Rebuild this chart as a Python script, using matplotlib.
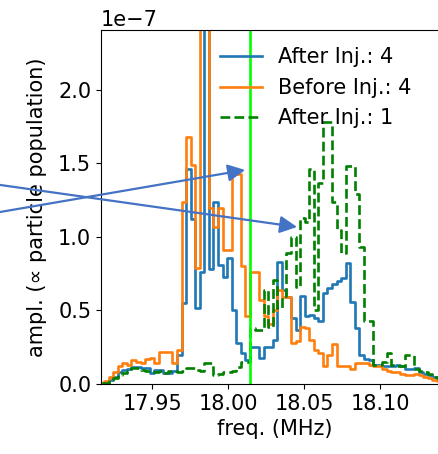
import numpy as np
import matplotlib
matplotlib.use('Agg')
import matplotlib.pyplot as plt

# spectrum bins (MHz), amplitudes in units of 1e-7
f_start = 17.9154
bin_width = 0.003

after_4 = [0.005, 0.01, 0.03, 0.05, 0.08, 0.095, 0.10, 0.115, 0.115, 0.11,
           0.11, 0.075, 0.095, 0.095, 0.075, 0.075, 0.09, 0.20, 0.55, 1.46,
           1.12, 0.52, 0.76, 3.0, 0.78, 1.24, 0.81, 0.73, 0.86, 0.50,
           0.28, 0.21, 0.16, 0.25, 0.25, 0.18, 0.25, 0.25, 0.30, 0.83,
           0.64, 0.59, 0.45, 0.37, 0.60, 0.46, 0.47, 0.45, 0.43, 0.62,
           0.65, 0.68, 0.70, 0.72, 0.82, 0.56, 0.38, 0.20, 0.17, 0.16,
           0.13, 0.13, 0.12, 0.12, 0.12, 0.13, 0.12, 0.10, 0.10, 0.11,
           0.08, 0.07, 0.06, 0.05, 0.04, 0.03, 0.03]

before_4 = [0.01, 0.02, 0.05, 0.08, 0.12, 0.14, 0.13, 0.16, 0.15, 0.14,
            0.17, 0.18, 0.14, 0.22, 0.22, 0.22, 0.14, 0.23, 1.24, 1.68,
            1.49, 0.79, 3.0, 3.0, 1.20, 1.07, 1.20, 0.91, 0.91, 1.43,
            1.43, 0.80, 0.46, 0.76, 0.76, 0.57, 0.46, 0.41, 0.50, 0.64,
            0.59, 0.59, 0.28, 0.29, 0.39, 0.38, 0.30, 0.23, 0.21, 0.12,
            0.20, 0.27, 0.12, 0.12, 0.12, 0.10, 0.14, 0.14, 0.14, 0.13,
            0.12, 0.12, 0.10, 0.09, 0.08, 0.08, 0.07, 0.06, 0.06, 0.07,
            0.06, 0.05, 0.04, 0.03, 0.02, 0.02, 0.02]

after_1 = [0.005, 0.01, 0.03, 0.04, 0.06, 0.075, 0.09, 0.11, 0.11, 0.095,
           0.09, 0.08, 0.08, 0.085, 0.075, 0.09, 0.085, 0.08, 0.09, 0.11,
           0.11, 0.095, 0.09, 0.14, 0.14, 0.06, 0.065, 0.08, 0.08, 0.09,
           0.115, 0.15, 0.15, 0.38, 0.37, 0.37, 0.64, 0.39, 0.71, 0.52,
           0.60, 0.89, 1.00, 0.66, 1.13, 1.10, 1.46, 0.50, 1.37, 1.78,
           1.78, 1.24, 1.05, 0.89, 1.48, 1.48, 1.29, 0.93, 0.43, 0.43,
           0.13, 0.13, 0.15, 0.21, 0.13, 0.12, 0.12, 0.20, 0.20, 0.10,
           0.09, 0.08, 0.07, 0.05, 0.04, 0.03, 0.03]

labels = ['After Inj.: 4', 'Before Inj.: 4', 'After Inj.: 1']
injection_freq = 18.0145

# arrows: (tail, head) in data units
arrows = [((17.85, 1.17e-7), (18.0112, 1.456e-7)),
          ((17.85, 1.354e-7), (18.0454, 1.068e-7))]

freq = f_start + bin_width * (np.arange(len(after_4)) + 0.5)

plt.rcParams['font.size'] = 15

fig = plt.figure(figsize=(4.39, 4.54), dpi=100)
ax = fig.add_axes([0.2301, 0.1542, 0.7904, 0.7797])

lw = 1.9
ax.step(freq, np.array(after_4) * 1e-7, where='mid', color='#1f77b4', lw=lw, label=labels[0])
ax.step(freq, np.array(before_4) * 1e-7, where='mid', color='#ff7f0e', lw=lw, label=labels[1])
ax.step(freq, np.array(after_1) * 1e-7, where='mid', color='green', lw=lw, ls='--', label=labels[2])
ax.axvline(injection_freq, color='lime', lw=lw)

for tail, head in arrows:
    ax.annotate('', xy=head, xytext=tail, annotation_clip=False,
                arrowprops=dict(arrowstyle='-|>', color='#4472C4', lw=1.6,
                                mutation_scale=26, shrinkA=0, shrinkB=0))

ax.set_xlim(17.9164, 18.1447)
ax.set_ylim(0, 2.408e-7)
ax.set_xticks([17.95, 18.00, 18.05, 18.10])
ax.set_yticks([0, 0.5e-7, 1.0e-7, 1.5e-7, 2.0e-7])
ax.set_xlabel('freq. (MHz)')
ax.set_ylabel('ampl. (\u221d particle population)', labelpad=8)

ax.legend(loc='upper left', bbox_to_anchor=(0.482, 0.914), bbox_transform=fig.transFigure,
          frameon=False, borderaxespad=0)

fig.savefig('out.png', dpi=100)
